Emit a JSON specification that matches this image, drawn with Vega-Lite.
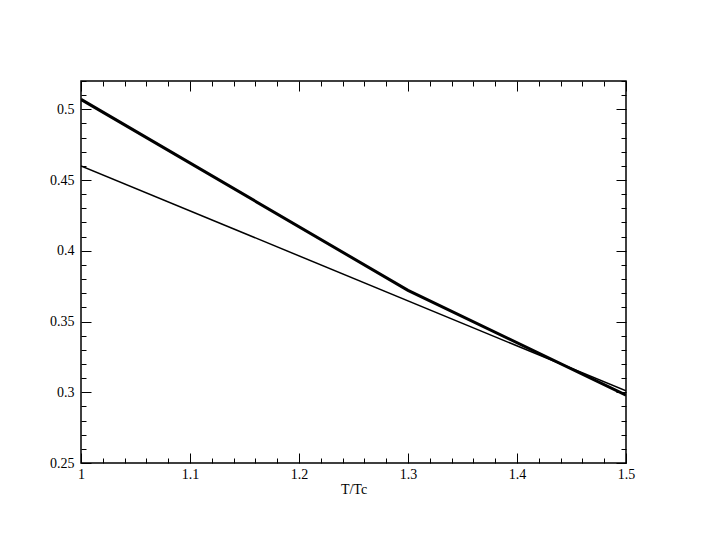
{
  "$schema": "https://vega.github.io/schema/vega-lite/v6.json",
  "width": 545,
  "height": 382,
  "autosize": {"type": "none"},
  "padding": {"left": 81, "top": 81, "right": 79, "bottom": 82},
  "background": "white",
  "config": {
    "view": {"stroke": "black", "strokeWidth": 1.5},
    "axis": {
      "labelFont": "Liberation Serif",
      "titleFont": "Liberation Serif",
      "labelFontSize": 14,
      "titleFontSize": 14,
      "titleFontWeight": "normal",
      "labelColor": "black",
      "titleColor": "black",
      "tickColor": "black",
      "domain": false,
      "grid": false,
      "labelOverlap": false,
      "labelFlush": false,
      "labelBound": false
    }
  },
  "data": {
    "values": [
      {"t": 1.0, "v": 0.507, "s": "a"},
      {"t": 1.3, "v": 0.372, "s": "a"},
      {"t": 1.5, "v": 0.298, "s": "a"},
      {"t": 1.0, "v": 0.460, "s": "b"},
      {"t": 1.5, "v": 0.301, "s": "b"}
    ]
  },
  "layer": [
    {
      "transform": [{"filter": "datum.s === 'a'"}],
      "mark": {"type": "line", "color": "black", "strokeWidth": 3, "clip": true},
      "encoding": {
        "x": {
          "field": "t", "type": "quantitative",
          "scale": {"domain": [1, 1.5], "nice": false, "zero": false},
          "axis": {
            "orient": "bottom", "title": "T/Tc",
            "values": [1,1.02,1.04,1.06,1.08,1.1,1.12,1.14,1.16,1.18,1.2,1.22,1.24,1.26,1.28,1.3,1.32,1.34,1.36,1.38,1.4,1.42,1.44,1.46,1.48,1.5],
            "tickSize": {"condition": {"test": "abs(datum.value*10 - round(datum.value*10)) < 1e-6", "value": -10}, "value": -5},
            "labelExpr": "abs(datum.value*10 - round(datum.value*10)) < 1e-6 ? '' + round(datum.value*10)/10 : ''",
            "labelPadding": 14,
            "titlePadding": -4
          }
        },
        "y": {
          "field": "v", "type": "quantitative",
          "scale": {"domain": [0.25, 0.52], "nice": false, "zero": false},
          "axis": {
            "orient": "left", "title": null,
            "values": [0.25,0.26,0.27,0.28,0.29,0.3,0.31,0.32,0.33,0.34,0.35,0.36,0.37,0.38,0.39,0.4,0.41,0.42,0.43,0.44,0.45,0.46,0.47,0.48,0.49,0.5,0.51,0.52],
            "tickSize": {"condition": {"test": "abs(datum.value*20 - round(datum.value*20)) < 1e-6", "value": -10}, "value": -5},
            "labelExpr": "abs(datum.value*20 - round(datum.value*20)) < 1e-6 ? '' + round(datum.value*100)/100 : ''",
            "labelPadding": 17
          }
        }
      }
    },
    {
      "transform": [{"filter": "datum.s === 'b'"}],
      "mark": {"type": "line", "color": "black", "strokeWidth": 1.5, "clip": true},
      "encoding": {
        "x": {
          "field": "t", "type": "quantitative",
          "axis": {
            "orient": "top", "title": null, "labels": false,
            "values": [1,1.02,1.04,1.06,1.08,1.1,1.12,1.14,1.16,1.18,1.2,1.22,1.24,1.26,1.28,1.3,1.32,1.34,1.36,1.38,1.4,1.42,1.44,1.46,1.48,1.5],
            "tickSize": {"condition": {"test": "abs(datum.value*10 - round(datum.value*10)) < 1e-6", "value": -10}, "value": -5}
          }
        },
        "y": {
          "field": "v", "type": "quantitative",
          "axis": {
            "orient": "right", "title": null, "labels": false,
            "values": [0.25,0.26,0.27,0.28,0.29,0.3,0.31,0.32,0.33,0.34,0.35,0.36,0.37,0.38,0.39,0.4,0.41,0.42,0.43,0.44,0.45,0.46,0.47,0.48,0.49,0.5,0.51,0.52],
            "tickSize": {"condition": {"test": "abs(datum.value*20 - round(datum.value*20)) < 1e-6", "value": -10}, "value": -5}
          }
        }
      }
    }
  ],
  "resolve": {"axis": {"x": "independent", "y": "independent"}}
}
